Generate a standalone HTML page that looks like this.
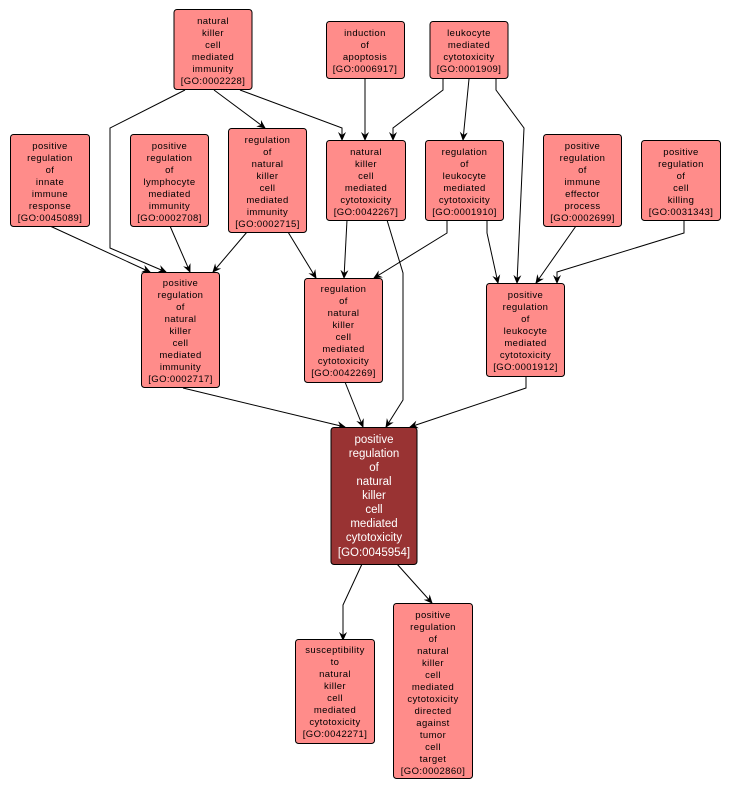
<!DOCTYPE html>
<html><head><meta charset="utf-8"><style>
html,body{margin:0;padding:0;background:#fff;}
svg text{font-family:"Liberation Sans",sans-serif;font-size:9.5px;fill:#000;text-anchor:middle;letter-spacing:0.4px;}
svg text.w{fill:#fff;font-size:11.5px;letter-spacing:0;}
</style></head><body>
<svg width="730" height="791" viewBox="0 0 730 791" xmlns="http://www.w3.org/2000/svg">
<defs><marker id="a" markerWidth="10" markerHeight="10" refX="8" refY="4" orient="auto" markerUnits="userSpaceOnUse"><path d="M0,0 L9,4 L0,8 L3,4 z" fill="#000"/></marker></defs>
<g fill="none" stroke="#000" stroke-width="1" marker-end="url(#a)">
<polyline points="185,90 110,128 110,248 166,272"/>
<polyline points="214,90 265,128"/>
<polyline points="240,90 342,128 342,140"/>
<polyline points="365,78 365,140"/>
<polyline points="443,79 443,90 393,128 393,140"/>
<polyline points="469,79 463,140"/>
<polyline points="496,79 496,90 524,128 517,283"/>
<polyline points="50,226 150,272"/>
<polyline points="170,226 190,272"/>
<polyline points="247,232 213,272"/>
<polyline points="288,232 316,278"/>
<polyline points="347,220 344,278"/>
<polyline points="387,220 403,273 403,400 386,427"/>
<polyline points="447,220 447,233 374,278"/>
<polyline points="487,220 487,233 498,283"/>
<polyline points="576,226 536,283"/>
<polyline points="684,220 684,233 557,272 557,283"/>
<polyline points="183,388 345,427"/>
<polyline points="345,382 363,427"/>
<polyline points="526,376 526,388 410,427"/>
<polyline points="362,564 343,605 343,640"/>
<polyline points="397,564 432,603"/>
</g>
<g stroke="#000" stroke-width="1" fill="#ff8c8a">
<rect x="174" y="9.5" width="78" height="80" rx="3"/>
<rect x="326.5" y="21.5" width="78" height="57" rx="3"/>
<rect x="430" y="21.5" width="78" height="57" rx="3"/>
<rect x="10.5" y="134.5" width="79" height="92" rx="3"/>
<rect x="130.5" y="134.5" width="78" height="92" rx="3"/>
<rect x="228.5" y="128.5" width="78" height="104" rx="3"/>
<rect x="326.5" y="140.5" width="79" height="80" rx="3"/>
<rect x="425.5" y="140.5" width="78" height="80" rx="3"/>
<rect x="543.5" y="134.5" width="78" height="92" rx="3"/>
<rect x="641.5" y="140.5" width="79" height="80" rx="3"/>
<rect x="141.5" y="272.5" width="78" height="115" rx="3"/>
<rect x="304.5" y="278.5" width="78" height="104" rx="3"/>
<rect x="486.5" y="283.5" width="78" height="93" rx="3"/>
<rect x="331" y="427.5" width="86" height="137" rx="3" fill="#993333"/>
<rect x="295.5" y="639.5" width="79" height="104" rx="3"/>
<rect x="393.5" y="603.5" width="79" height="175" rx="3"/>
</g>
<text x="213" y="24">natural</text><text x="213" y="36">killer</text><text x="213" y="48">cell</text><text x="213" y="60">mediated</text><text x="213" y="72">immunity</text><text x="213" y="84">[GO:0002228]</text>
<text x="365" y="36">induction</text><text x="365" y="48">of</text><text x="365" y="60">apoptosis</text><text x="365" y="72">[GO:0006917]</text>
<text x="469" y="36">leukocyte</text><text x="469" y="48">mediated</text><text x="469" y="60">cytotoxicity</text><text x="469" y="72">[GO:0001909]</text>
<text x="50" y="149">positive</text><text x="50" y="161">regulation</text><text x="50" y="173">of</text><text x="50" y="185">innate</text><text x="50" y="197">immune</text><text x="50" y="209">response</text><text x="50" y="221">[GO:0045089]</text>
<text x="169.5" y="149">positive</text><text x="169.5" y="161">regulation</text><text x="169.5" y="173">of</text><text x="169.5" y="185">lymphocyte</text><text x="169.5" y="197">mediated</text><text x="169.5" y="209">immunity</text><text x="169.5" y="221">[GO:0002708]</text>
<text x="267.5" y="143">regulation</text><text x="267.5" y="155">of</text><text x="267.5" y="167">natural</text><text x="267.5" y="179">killer</text><text x="267.5" y="191">cell</text><text x="267.5" y="203">mediated</text><text x="267.5" y="215">immunity</text><text x="267.5" y="227">[GO:0002715]</text>
<text x="366" y="155">natural</text><text x="366" y="167">killer</text><text x="366" y="179">cell</text><text x="366" y="191">mediated</text><text x="366" y="203">cytotoxicity</text><text x="366" y="215">[GO:0042267]</text>
<text x="464.5" y="155">regulation</text><text x="464.5" y="167">of</text><text x="464.5" y="179">leukocyte</text><text x="464.5" y="191">mediated</text><text x="464.5" y="203">cytotoxicity</text><text x="464.5" y="215">[GO:0001910]</text>
<text x="582.5" y="149">positive</text><text x="582.5" y="161">regulation</text><text x="582.5" y="173">of</text><text x="582.5" y="185">immune</text><text x="582.5" y="197">effector</text><text x="582.5" y="209">process</text><text x="582.5" y="221">[GO:0002699]</text>
<text x="681" y="155">positive</text><text x="681" y="167">regulation</text><text x="681" y="179">of</text><text x="681" y="191">cell</text><text x="681" y="203">killing</text><text x="681" y="215">[GO:0031343]</text>
<text x="180.5" y="286">positive</text><text x="180.5" y="298">regulation</text><text x="180.5" y="310">of</text><text x="180.5" y="322">natural</text><text x="180.5" y="334">killer</text><text x="180.5" y="346">cell</text><text x="180.5" y="358">mediated</text><text x="180.5" y="370">immunity</text><text x="180.5" y="382">[GO:0002717]</text>
<text x="343.5" y="292">regulation</text><text x="343.5" y="304">of</text><text x="343.5" y="316">natural</text><text x="343.5" y="328">killer</text><text x="343.5" y="340">cell</text><text x="343.5" y="352">mediated</text><text x="343.5" y="364">cytotoxicity</text><text x="343.5" y="376">[GO:0042269]</text>
<text x="525.5" y="298">positive</text><text x="525.5" y="310">regulation</text><text x="525.5" y="322">of</text><text x="525.5" y="334">leukocyte</text><text x="525.5" y="346">mediated</text><text x="525.5" y="358">cytotoxicity</text><text x="525.5" y="370">[GO:0001912]</text>
<text class="w" x="374" y="443">positive</text><text class="w" x="374" y="457">regulation</text><text class="w" x="374" y="471">of</text><text class="w" x="374" y="485">natural</text><text class="w" x="374" y="499">killer</text><text class="w" x="374" y="513">cell</text><text class="w" x="374" y="527">mediated</text><text class="w" x="374" y="541">cytotoxicity</text><text class="w" x="374" y="556">[GO:0045954]</text>
<text x="335" y="653">susceptibility</text><text x="335" y="665">to</text><text x="335" y="677">natural</text><text x="335" y="689">killer</text><text x="335" y="701">cell</text><text x="335" y="713">mediated</text><text x="335" y="725">cytotoxicity</text><text x="335" y="737">[GO:0042271]</text>
<text x="433" y="618">positive</text><text x="433" y="630">regulation</text><text x="433" y="642">of</text><text x="433" y="654">natural</text><text x="433" y="666">killer</text><text x="433" y="678">cell</text><text x="433" y="690">mediated</text><text x="433" y="702">cytotoxicity</text><text x="433" y="714">directed</text><text x="433" y="726">against</text><text x="433" y="738">tumor</text><text x="433" y="750">cell</text><text x="433" y="762">target</text><text x="433" y="774">[GO:0002860]</text>
</svg>
</body></html>
